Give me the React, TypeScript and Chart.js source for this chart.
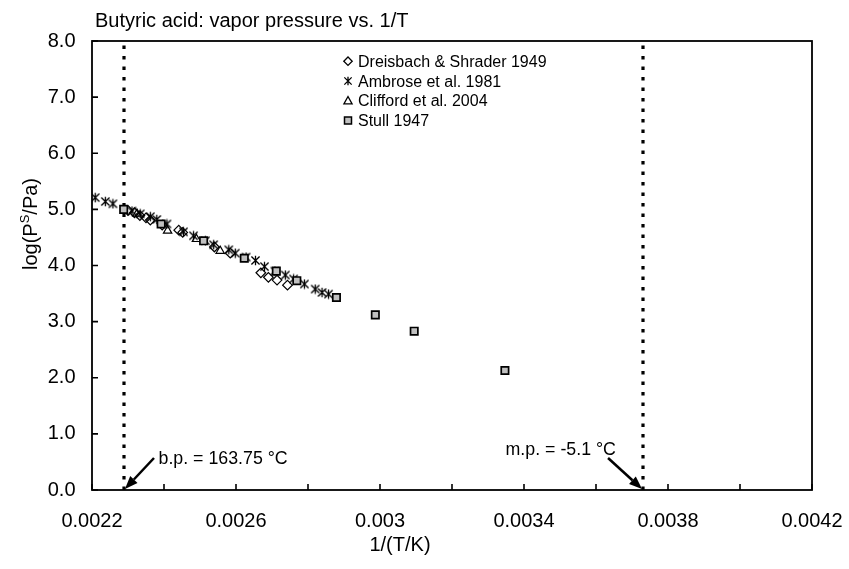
import React, { useEffect, useRef } from "react";
import { Chart, registerables } from "chart.js";
Chart.register(...registerables);

const FONT = "'Liberation Sans', Arial, sans-serif";

const chartTitle = "Butyric acid: vapor pressure vs. 1/T";
const xAxisTitle = "1/(T/K)";
const seriesNames = ["Dreisbach & Shrader 1949", "Ambrose et al. 1981", "Clifford et al. 2004", "Stull 1947"];

const dreisbachX = [0.002300, 0.002318, 0.002333, 0.002350, 0.002362, 0.002395, 0.002441, 0.002452, 0.002540, 0.002584, 0.002669, 0.002690, 0.002714, 0.002743];
const dreisbachY = [4.98, 4.94, 4.89, 4.85, 4.81, 4.72, 4.63, 4.59, 4.33, 4.22, 3.87, 3.79, 3.74, 3.65];

const ambroseX = [0.002209, 0.002237, 0.002258, 0.002311, 0.002334, 0.002362, 0.002380, 0.002408, 0.002454, 0.002482, 0.002515, 0.002538, 0.002580, 0.002598, 0.002628, 0.002654, 0.002679, 0.002708, 0.002737, 0.002760, 0.002790, 0.002820, 0.002839, 0.002857];
const ambroseY = [5.21, 5.14, 5.10, 4.97, 4.92, 4.87, 4.82, 4.74, 4.60, 4.53, 4.44, 4.37, 4.28, 4.22, 4.15, 4.09, 3.98, 3.90, 3.83, 3.76, 3.67, 3.58, 3.52, 3.49];

const cliffordX = [0.002325, 0.002410, 0.002490, 0.002556];
const cliffordY = [4.92, 4.62, 4.47, 4.26];

const stullX = [0.002288, 0.002392, 0.002510, 0.002623, 0.002712, 0.002769, 0.002879, 0.002987, 0.003095, 0.003347];
const stullY = [5.00, 4.74, 4.44, 4.13, 3.90, 3.73, 3.43, 3.12, 2.83, 2.13];

const xMin = 0.0022, xMax = 0.0042, xStep = 0.0002;
const yMin = 0, yMax = 8, yStep = 1;

const boilingPointC = 163.75;
const meltingPointC = -5.1;
const bpX = 1 / (boilingPointC + 273.15);
const mpX = 1 / (meltingPointC + 273.15);
const bpLabel = "b.p. = 163.75 °C";
const mpLabel = "m.p. = -5.1 °C";

function makeAsterisk(size: number, lw: number) {
  const c = document.createElement("canvas");
  c.width = size; c.height = size;
  const ctx = c.getContext("2d")!;
  drawAsterisk(ctx, size / 2, size / 2, size / 2 - 0.7, lw);
  return c;
}
function drawAsterisk(ctx: CanvasRenderingContext2D, x: number, y: number, r: number, lw: number) {
  ctx.save();
  ctx.strokeStyle = "#000"; ctx.lineWidth = lw;
  ctx.beginPath();
  ctx.moveTo(x, y - r); ctx.lineTo(x, y + r);
  const d = r * 0.85;
  ctx.moveTo(x - d, y - d); ctx.lineTo(x + d, y + d);
  ctx.moveTo(x + d, y - d); ctx.lineTo(x - d, y + d);
  ctx.stroke();
  ctx.restore();
}

function arrow(ctx: CanvasRenderingContext2D, x1: number, y1: number, x2: number, y2: number) {
  const ang = Math.atan2(y2 - y1, x2 - x1);
  const hl = 13, hw = 5;
  const bx = x2 - Math.cos(ang) * hl, by = y2 - Math.sin(ang) * hl;
  ctx.save();
  ctx.strokeStyle = "#000"; ctx.fillStyle = "#000"; ctx.lineWidth = 2.5;
  ctx.beginPath(); ctx.moveTo(x1, y1); ctx.lineTo(bx, by); ctx.stroke();
  ctx.beginPath();
  ctx.moveTo(x2, y2);
  ctx.lineTo(bx + Math.sin(ang) * hw, by - Math.cos(ang) * hw);
  ctx.lineTo(bx - Math.sin(ang) * hw, by + Math.cos(ang) * hw);
  ctx.closePath(); ctx.fill();
  ctx.restore();
}

const decorPlugin = {
  id: "decor",
  beforeDatasetsDraw(chart: any) {
    const { ctx, chartArea: a, scales } = chart;
    ctx.save();
    ctx.strokeStyle = "#000"; ctx.lineWidth = 3.2; ctx.setLineDash([3.5, 7]);
    for (const v of [bpX, mpX]) {
      const px = Math.round(scales.x.getPixelForValue(v));
      ctx.beginPath(); ctx.moveTo(px, a.bottom); ctx.lineTo(px, a.top); ctx.stroke();
    }
    ctx.restore();
  },
  afterDatasetsDraw(chart: any) {
    const { ctx, chartArea: a, scales } = chart;
    const sx = scales.x, sy = scales.y;
    ctx.save();
    ctx.strokeStyle = "#000"; ctx.lineWidth = 1.8;
    ctx.strokeRect(a.left, a.top, a.right - a.left, a.bottom - a.top);
    ctx.lineWidth = 1.6;
    ctx.beginPath();
    for (const t of sx.ticks) {
      const px = sx.getPixelForValue(t.value);
      ctx.moveTo(px, a.bottom); ctx.lineTo(px, a.bottom - 6);
    }
    for (const t of sy.ticks) {
      const py = sy.getPixelForValue(t.value);
      ctx.moveTo(a.left, py); ctx.lineTo(a.left + 6, py);
    }
    ctx.stroke();

    ctx.fillStyle = "#000";
    ctx.font = `20px ${FONT}`;
    ctx.textAlign = "left"; ctx.textBaseline = "alphabetic";
    ctx.fillText(chartTitle, 95, 27);
    ctx.textAlign = "center";
    ctx.fillText(xAxisTitle, 400, 551);
    ctx.save();
    ctx.translate(37, 224);
    ctx.rotate(-Math.PI / 2);
    ctx.textAlign = "left";
    const p1 = "log(P", p2 = "S", p3 = "/Pa)";
    ctx.font = `20px ${FONT}`;
    const w1 = ctx.measureText(p1).width, w3 = ctx.measureText(p3).width;
    ctx.font = `13px ${FONT}`;
    const w2 = ctx.measureText(p2).width;
    const x0 = -(w1 + w2 + w3) / 2;
    ctx.font = `20px ${FONT}`;
    ctx.fillText(p1, x0, 0);
    ctx.font = `13px ${FONT}`;
    ctx.fillText(p2, x0 + w1, -8);
    ctx.font = `20px ${FONT}`;
    ctx.fillText(p3, x0 + w1 + w2, 0);
    ctx.restore();

    const lx = 348, tx = 358;
    const baselines = [66.7, 86.5, 106.3, 126];
    ctx.font = `16px ${FONT}`;
    ctx.textAlign = "left";
    seriesNames.forEach((name, i) => {
      const cy = baselines[i] - 5.5;
      ctx.save();
      ctx.strokeStyle = "#000"; ctx.lineWidth = 1.3;
      if (i === 0) {
        const r = 4.2;
        ctx.beginPath(); ctx.moveTo(lx - r, cy); ctx.lineTo(lx, cy - r); ctx.lineTo(lx + r, cy); ctx.lineTo(lx, cy + r); ctx.closePath(); ctx.stroke();
      } else if (i === 1) {
        drawAsterisk(ctx, lx, cy, 4.3, 1.3);
      } else if (i === 2) {
        const r = 4.3;
        ctx.beginPath(); ctx.moveTo(lx, cy - r); ctx.lineTo(lx + r * 0.95, cy + r * 0.7); ctx.lineTo(lx - r * 0.95, cy + r * 0.7); ctx.closePath(); ctx.stroke();
      } else {
        ctx.fillStyle = "#c0c0c0"; ctx.lineWidth = 1.5;
        ctx.fillRect(lx - 3.5, cy - 3.5, 7, 7); ctx.strokeRect(lx - 3.5, cy - 3.5, 7, 7);
      }
      ctx.restore();
      ctx.fillText(name, tx, baselines[i]);
    });

    const bpTipX = sx.getPixelForValue(bpX), tipY = sy.getPixelForValue(0);
    const mpTipX = sx.getPixelForValue(mpX);
    arrow(ctx, bpTipX + 30, tipY - 32, bpTipX + 1, tipY - 1);
    arrow(ctx, mpTipX - 35, tipY - 32, mpTipX - 1, tipY - 1);
    ctx.font = `17.8px ${FONT}`;
    ctx.textAlign = "left";
    ctx.fillText(bpLabel, bpTipX + 34.5, tipY - 25.7);
    ctx.fillText(mpLabel, mpTipX - 137.5, tipY - 35);
    ctx.restore();
  },
};

function toPts(xs: number[], ys: number[]) {
  return xs.map((x, i) => ({ x, y: ys[i] }));
}

export default function App() {
  const ref = useRef<HTMLCanvasElement>(null);
  useEffect(() => {
    document.body.style.margin = "0";
    const asterisk = makeAsterisk(11, 1.3);
    const chart = new Chart(ref.current!, {
      type: "scatter",
      data: {
        datasets: [
          { label: seriesNames[3], data: toPts(stullX, stullY), pointStyle: "rect", radius: 5.2, borderWidth: 1.7, borderColor: "#000", backgroundColor: "#c0c0c0", order: 0 },
          { label: seriesNames[2], data: toPts(cliffordX, cliffordY), pointStyle: "triangle", radius: 4.8, borderWidth: 1.2, borderColor: "#000", backgroundColor: "rgba(0,0,0,0)", order: 1 },
          { label: seriesNames[1], data: toPts(ambroseX, ambroseY), pointStyle: asterisk as any, radius: 5, borderColor: "#000", backgroundColor: "#000", order: 2 },
          { label: seriesNames[0], data: toPts(dreisbachX, dreisbachY), pointStyle: "rectRot", radius: 4.8, borderWidth: 1.2, borderColor: "#000", backgroundColor: "rgba(0,0,0,0)", order: 3 },
        ] as any,
      },
      options: {
        responsive: false,
        animation: false,
        events: [],
        layout: { padding: { top: 41, right: 37, left: 0, bottom: 0 } },
        plugins: { legend: { display: false }, tooltip: { enabled: false }, title: { display: false } },
        scales: {
          x: {
            type: "linear",
            min: xMin, max: xMax,
            grid: { display: false, drawTicks: false },
            border: { display: false },
            afterFit: (s: any) => { s.height = 79; s.paddingLeft = 0; s.paddingRight = 0; },
            ticks: {
              stepSize: xStep,
              autoSkip: false,
              maxRotation: 0,
              padding: 19,
              color: "#000",
              font: { family: FONT, size: 20 },
              callback: (v: any) => {
                const k = Math.round(Number(v) * 1e4);
                return k % 4 === 2 ? String(k / 1e4) : "";
              },
            },
          },
          y: {
            type: "linear",
            min: yMin, max: yMax,
            grid: { display: false, drawTicks: false },
            border: { display: false },
            afterFit: (s: any) => { s.width = 92; s.paddingTop = 0; s.paddingBottom = 0; },
            ticks: {
              stepSize: yStep,
              padding: 16.5,
              color: "#000",
              font: { family: FONT, size: 20 },
              callback: (v: any) => Number(v).toFixed(1),
            },
          },
        },
      },
      plugins: [decorPlugin],
    });
    return () => chart.destroy();
  }, []);
  return <canvas ref={ref} width={849} height={569} style={{ display: "block", width: 849, height: 569 }} />;
}
